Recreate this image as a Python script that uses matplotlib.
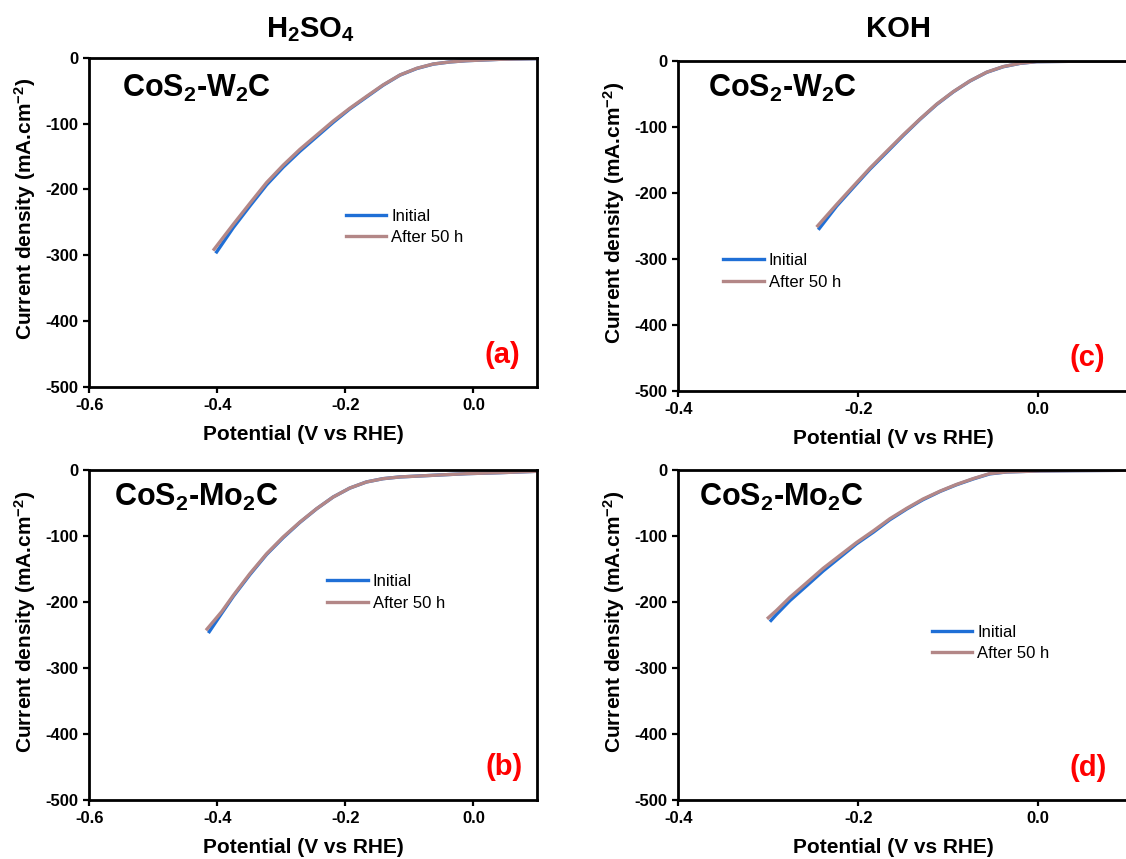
import matplotlib
matplotlib.use('Agg')
import matplotlib.pyplot as plt

plt.rcParams['font.family'] = ['Liberation Sans', 'DejaVu Sans']
plt.rcParams['mathtext.fontset'] = 'custom'
plt.rcParams['mathtext.rm'] = 'Liberation Sans'
plt.rcParams['mathtext.bf'] = 'Liberation Sans:bold'
plt.rcParams['mathtext.it'] = 'Liberation Sans:italic'
plt.rcParams['axes.unicode_minus'] = False

# --- valeurs (V vs RHE, mA.cm-2) ---
# (a) H2SO4, CoS2-W2C
v_a_init = [-0.401, -0.375, -0.349, -0.323, -0.297, -0.271, -0.245, -0.219, -0.193,
            -0.167, -0.141, -0.1145, -0.0884, -0.0625, -0.0364, -0.0103, 0.0417, 0.1]
j_a_init = [-295, -258, -225, -193, -166, -142, -120, -98, -77.5,
            -59.5, -41.5, -26, -16, -9.3, -6, -4.1, -2, -1]
v_a_after = [-0.405, -0.375, -0.349, -0.323, -0.297, -0.271, -0.245, -0.219, -0.193,
             -0.167, -0.141, -0.1145, -0.0884, -0.0625, -0.0364, -0.0103, 0.0417, 0.1]
j_a_after = [-291, -253, -221, -189.5, -163, -139, -117.5, -96, -76.5,
             -58.5, -41, -25.8, -15.7, -9.1, -6, -4.1, -2, -1]

# (b) H2SO4, CoS2-Mo2C
v_b_init = [-0.4125, -0.393, -0.375, -0.349, -0.323, -0.297, -0.271, -0.245, -0.219,
            -0.193, -0.167, -0.141, -0.115, -0.063, -0.010, 0.042, 0.1]
j_b_init = [-245, -217, -191.5, -158.5, -128, -102.5, -79.5, -59, -41,
            -27.5, -18.2, -13.2, -10.6, -8.1, -5.6, -4.1, -2]
v_b_after = [-0.416, -0.393, -0.375, -0.349, -0.323, -0.297, -0.271, -0.245, -0.219,
             -0.193, -0.167, -0.141, -0.115, -0.063, -0.010, 0.042, 0.1]
j_b_after = [-241, -214.5, -190, -157, -127, -101.5, -79, -58.8, -41,
             -27.4, -18.2, -13.2, -10.6, -8.1, -5.6, -4.1, -2]

# (c) KOH, CoS2-W2C
v_c_init = [-0.2433, -0.224, -0.2056, -0.187, -0.1684, -0.150, -0.1314, -0.1129,
            -0.0944, -0.0759, -0.0573, -0.0389, -0.0203, -0.0018, 0.05, 0.1]
j_c_init = [-254, -220, -192, -164, -138.5, -113, -88.5, -66,
            -46.8, -30.4, -17.2, -8.7, -3.6, -1, -0.3, -0.2]
v_c_after = [-0.2451, -0.224, -0.2056, -0.187, -0.1684, -0.150, -0.1314, -0.1129,
             -0.0944, -0.0759, -0.0573, -0.0389, -0.0203, -0.0018, 0.05, 0.1]
j_c_after = [-250, -217.5, -190, -162.5, -137, -112, -88, -65.5,
             -46.5, -30.2, -17, -8.5, -3.5, -1, -0.3, -0.2]

# (d) KOH, CoS2-Mo2C
v_d_init = [-0.297, -0.291, -0.276, -0.257, -0.239, -0.220, -0.202, -0.183, -0.165,
            -0.146, -0.128, -0.109, -0.091, -0.072, -0.054, -0.035, 0.002, 0.039, 0.1]
j_d_init = [-228, -219, -198, -175, -153, -132, -112, -94, -75.5,
            -59, -45, -32.5, -22.5, -13.5, -6, -3, -1.5, -1, -0.5]
v_d_after = [-0.300, -0.291, -0.276, -0.257, -0.239, -0.220, -0.202, -0.183, -0.165,
             -0.146, -0.128, -0.109, -0.091, -0.072, -0.054, -0.035, 0.002, 0.039, 0.1]
j_d_after = [-224, -213, -193, -170.5, -149, -129, -110, -92, -74,
             -58, -44, -32, -22, -13, -5.5, -3, -1.5, -1, -0.5]

y_ticks = [-500, -400, -300, -200, -100, 0]
x_ticks_acid = [-0.6, -0.4, -0.2, 0.0]
x_ticks_base = [-0.4, -0.2, 0.0]
x_labels_acid = ['-0.6', '-0.4', '-0.2', '0.0']
x_labels_base = ['-0.4', '-0.2', '0.0']

samples = ['CoS$_\\mathbf{2}$-W$_\\mathbf{2}$C', 'CoS$_\\mathbf{2}$-Mo$_\\mathbf{2}$C']
letters = ['(a)', '(b)', '(c)', '(d)']

BLUE = '#1f6fd6'
MAUVE = '#b38787'

fig = plt.figure(figsize=(11.26, 8.59), dpi=100)

panels = [
    # rect, data, xlim, xticks, xlabels, sample, letter, legend anchor, letter pos, sample pos
    ([0.0793, 0.5498, 0.3979, 0.3827], (v_a_init, j_a_init, v_a_after, j_a_after),
     -0.6, x_ticks_acid, x_labels_acid, samples[0], letters[0], (0.572, 0.486), (0.921, 0.096), (0.073, 0.881)),
    ([0.0793, 0.0687, 0.3979, 0.3842], (v_b_init, j_b_init, v_b_after, j_b_after),
     -0.6, x_ticks_acid, x_labels_acid, samples[1], letters[1], (0.530, 0.629), (0.925, 0.101), (0.055, 0.891)),
    ([0.6024, 0.5452, 0.3996, 0.3838], (v_c_init, j_c_init, v_c_after, j_c_after),
     -0.4, x_ticks_base, x_labels_base, samples[0], letters[2], (0.099, 0.362), (0.910, 0.099), (0.066, 0.891)),
    ([0.6024, 0.0687, 0.3996, 0.3842], (v_d_init, j_d_init, v_d_after, j_d_after),
     -0.4, x_ticks_base, x_labels_base, samples[1], letters[3], (0.563, 0.476), (0.912, 0.097), (0.046, 0.891)),
]

for rect, (vi, ji, va, ja), xmin, xt, xl, sample, letter, leg_pos, let_pos, samp_pos in panels:
    ax = fig.add_axes(rect)
    ax.plot(vi, ji, color=BLUE, lw=2.4, label='Initial')
    ax.plot(va, ja, color=MAUVE, lw=2.4, label='After 50 h')
    ax.set_xlim(xmin, 0.1)
    ax.set_ylim(-500, 0)
    ax.set_xticks(xt)
    ax.set_xticklabels(xl)
    ax.set_yticks(y_ticks)
    ax.set_yticklabels([str(t) for t in y_ticks])
    ax.tick_params(direction='out', length=4.5, width=1.6, labelsize=12, pad=3.5)
    for lbl in ax.get_xticklabels() + ax.get_yticklabels():
        lbl.set_fontweight('bold')
    for sp in ax.spines.values():
        sp.set_linewidth(2)

    ax.set_xlabel('Potential (V vs RHE)', fontsize=15, fontweight='bold')
    ax.xaxis.set_label_coords(0.478, -0.145)
    ax.xaxis.label.set_va('center')
    ax.set_ylabel('Current density (mA.cm$^{\\mathbf{-2}}$)', fontsize=15, fontweight='bold')
    ax.yaxis.set_label_coords(-0.143, 0.54)
    ax.yaxis.label.set_va('center')

    ax.text(samp_pos[0], samp_pos[1], sample, transform=ax.transAxes, fontsize=22,
            fontweight='bold', ha='left', va='baseline')
    ax.text(let_pos[0], let_pos[1], letter, transform=ax.transAxes, fontsize=21,
            fontweight='bold', color='#ff0000', ha='center', va='center')

    ax.legend(loc='center left', bbox_to_anchor=leg_pos, frameon=False, fontsize=12,
              handlelength=2.45, handletextpad=0.3, borderaxespad=0, borderpad=0,
              labelspacing=0.4)

fig.text(0.276, 0.965, 'H$_\\mathbf{2}$SO$_\\mathbf{4}$', fontsize=21, fontweight='bold',
         ha='center', va='center')
fig.text(0.798, 0.966, 'KOH', fontsize=21, fontweight='bold', ha='center', va='center')

plt.savefig('out.png', dpi=100)
plt.close()
